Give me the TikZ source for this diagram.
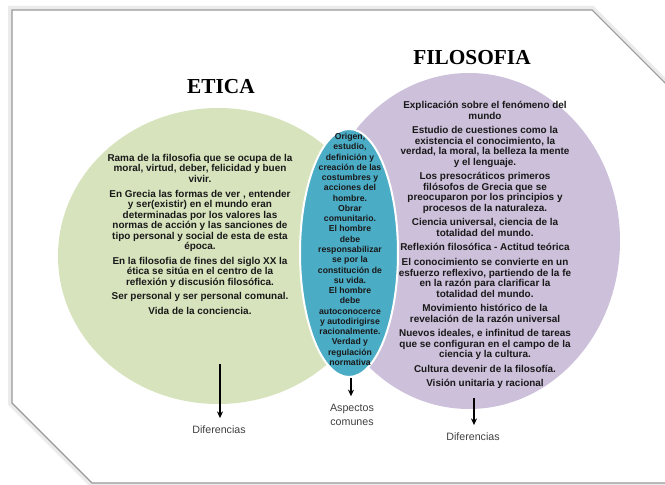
\documentclass[tikz,border=0pt]{standalone}
\usepackage{fontspec}
\setmainfont{Liberation Sans}
\newfontfamily\titlefont{Liberation Serif}
\usetikzlibrary{arrows.meta}
\definecolor{eticagreen}{RGB}{214,227,188}
\definecolor{filopurple}{RGB}{204,192,218}
\definecolor{comunblue}{RGB}{75,172,198}
\tikzset{
	bodytext/.style={align=center, inner sep=0pt, anchor=north, text=black!90, font=\fontsize{7.45}{7.9}\selectfont\bfseries},
	midtext/.style={align=center, inner sep=0pt, anchor=north, text=black!90, font=\fontsize{6.5}{7.7}\selectfont\bfseries},
	titletext/.style={inner sep=0pt, font=\titlefont\bfseries\fontsize{16}{18}\selectfont},
	lbl/.style={align=center, inner sep=0pt, outer sep=6pt, text=black!75, font=\fontsize{8}{10.5}\selectfont},
	arr/.style={-{Stealth[length=5pt,width=4.5pt]}, line width=0.9pt},
}

\begin{document}
\begin{tikzpicture}[x=0.75pt,y=0.75pt,yscale=-1,xscale=1]
	\useasboundingbox (0,0) rectangle (665,485);
	
	%Shape: Frame
	\draw [line width=6, black!8] (12,10) -- (592,10) -- (672,90) -- (672,483) -- (92,483) -- (12,403) -- cycle ;
	\fill [white] (12,10) -- (592,10) -- (672,90) -- (672,483) -- (92,483) -- (12,403) -- cycle ;
	\draw [line width=0.8, black!40] (12,10) -- (592,10) -- (672,90) -- (672,483) -- (92,483) -- (12,403) -- cycle ;
	
	%Shape: Ellipse (etica)
	\fill [eticagreen] (218,256) ellipse [x radius=160, y radius=148] ;
	%Shape: Ellipse (filosofia)
	\fill [filopurple] (469,241) ellipse [x radius=151, y radius=168] ;
	%Shape: Ellipse (comun)
	\draw [draw=white, line width=1.5, fill=comunblue] (349,253) ellipse [x radius=49, y radius=124] ;
	
	% Text Node
	\node [titletext] (etica) at (221,87) {ETICA};
	\node [titletext] (filo) at (472,58) {FILOSOFIA};
	
	% Text Node
	\node [bodytext] (txtetica) at (200,154) {Rama de la filosofia que se ocupa de la\\ moral, virtud, deber, felicidad y buen\\ vivir.\\[3pt]
		En Grecia las formas de ver , entender\\ y ser(existir) en el mundo eran\\ determinadas por los valores las\\ normas de acción y las sanciones de\\ tipo personal y social de esta de esta\\ época.\\[3pt]
		En la filosofia de fines del siglo XX la\\ ética se sitúa en el centro de la\\ reflexión y discusión filosófica.\\[3pt]
		Ser personal y ser personal comunal.\\[3pt]
		Vida de la conciencia.};
	
	% Text Node
	\node [midtext] (txtcomun) at (350,133) {Origen,\\ estudio,\\ definición y\\ creación de las\\ costumbres y\\ acciones del\\ hombre.\\ Obrar\\ comunitario.\\ El hombre\\ debe\\ responsabilizar\\ se por la\\ constitución de\\ su vida.\\ El hombre\\ debe\\ autoconocerce\\ y autodirigirse\\ racionalmente.\\ Verdad y\\ regulación\\ normativa};
	
	% Text Node
	\node [bodytext] (txtfilo) at (485,101) {Explicación sobre el fenómeno del\\ mundo\\[3pt]
		Estudio de cuestiones como la\\ existencia el conocimiento, la\\ verdad, la moral, la belleza la mente\\ y el lenguaje.\\[3pt]
		Los presocráticos primeros\\ filósofos de Grecia que se\\ preocuparon por los principios y\\ procesos de la naturaleza.\\[3pt]
		Ciencia universal, ciencia de la\\ totalidad del mundo.\\[3pt]
		Reflexión filosófica - Actitud teórica\\[3pt]
		El conocimiento se convierte en un\\ esfuerzo reflexivo, partiendo de la fe\\ en la razón para clarificar la\\ totalidad del mundo.\\[3pt]
		Movimiento histórico de la\\ revelación de la razón universal\\[3pt]
		Nuevos ideales, e infinitud de tareas\\ que se configuran en el campo de la\\ ciencia y la cultura.\\[3pt]
		Cultura devenir de la filosofía.\\[3pt]
		Visión unitaria y racional};
	
	% Text Node
	\node [lbl] (difetica) at (219,430) {Diferencias};
	\node [lbl] (aspectos) at (352,415) {Aspectos\\ comunes};
	\node [lbl] (diffilo) at (473,437) {Diferencias};
	
	\coordinate (arretica) at (220,364);
	\coordinate (arrcomun) at (351,378);
	\coordinate (arrfilo) at (474,398);
	\draw [arr] (arretica) -- (arretica |- difetica.north) ;
	\draw [arr] (arrcomun) -- (arrcomun |- aspectos.north) ;
	\draw [arr] (arrfilo) -- (arrfilo |- diffilo.north) ;
\end{tikzpicture}
\end{document}
